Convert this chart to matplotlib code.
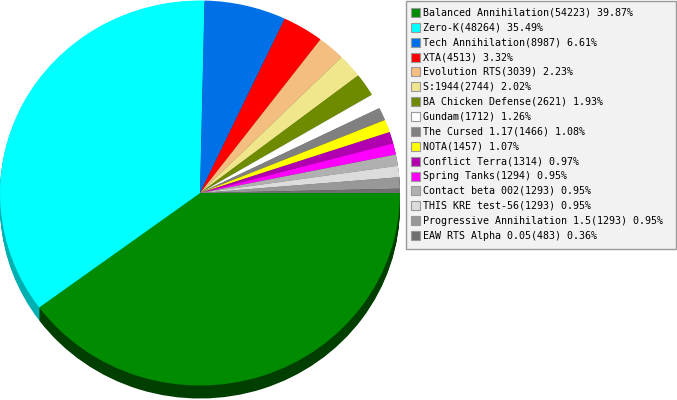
# mod usage pie chart, 3d-ish look like the old server stats page

import matplotlib
matplotlib.use('Agg')
import matplotlib.pyplot as plt
from matplotlib.patches import Rectangle
from matplotlib.colors import to_rgb

names = ['Balanced Annihilation', 'Zero-K', 'Tech Annihilation', 'XTA',
         'Evolution RTS', 'S:1944', 'BA Chicken Defense', 'Gundam',
         'The Cursed 1.17', 'NOTA', 'Conflict Terra', 'Spring Tanks',
         'Contact beta 002', 'THIS KRE test-56', 'Progressive Annihilation 1.5',
         'EAW RTS Alpha 0.05']
counts = [54223, 48264, 8987, 4513, 3039, 2744, 2621, 1712,
          1466, 1457, 1314, 1294, 1293, 1293, 1293, 483]
percents = [39.87, 35.49, 6.61, 3.32, 2.23, 2.02, 1.93, 1.26,
            1.08, 1.07, 0.97, 0.95, 0.95, 0.95, 0.95, 0.36]
colors = ['#008b00', '#00ffff', '#0070e8', '#ff0000', '#f4be80', '#f0e68c',
          '#6e8b00', '#ffffff', '#808080', '#ffff00', '#b000b0', '#ff00ff',
          '#b0b0b0', '#dcdcdc', '#989898', '#707070']

W, H = 677, 400
fig = plt.figure(figsize=(W / 100, H / 100), dpi=100)

# pie, drawn a few times shifted down for the side
ax = fig.add_axes([0, 0, 400 / W, 1])
depth = 13
ry = 192.5
side = [tuple(c * 0.45 for c in to_rgb(col)) for col in colors]
side[1] = '#00b0b0'
for k in range(depth, 0, -1):
    ax.pie(counts, colors=side, startangle=0, counterclock=False,
           center=(0, -k / ry), wedgeprops=dict(linewidth=0))
ax.pie(counts, colors=colors, startangle=0, counterclock=False,
       wedgeprops=dict(linewidth=0))
ax.set_aspect('auto')
ax.set_xlim(-1, 1)
ax.set_ylim(-(H - 193) / ry, 193 / ry)
ax.axis('off')

# legend box, pixel coords
lax = fig.add_axes([0, 0, 1, 1])
lax.set_xlim(0, W)
lax.set_ylim(H, 0)
lax.axis('off')
lax.patch.set_visible(False)
lax.add_patch(Rectangle((405.5, 0.5), 270.5, 248.5, fc='#f2f2f2', ec='#999999', lw=1))
for i in range(len(names)):
    y = 12.5 + i * 14.87
    lax.add_patch(Rectangle((410.5, y - 4.5), 9, 9, fc=colors[i], ec='#999999', lw=0.8))
    lax.text(423, y, f'{names[i]}({counts[i]}) {percents[i]:.2f}%',
             fontsize=7.2, family='DejaVu Sans Mono', va='center', ha='left')

fig.savefig('out.png', dpi=100)
